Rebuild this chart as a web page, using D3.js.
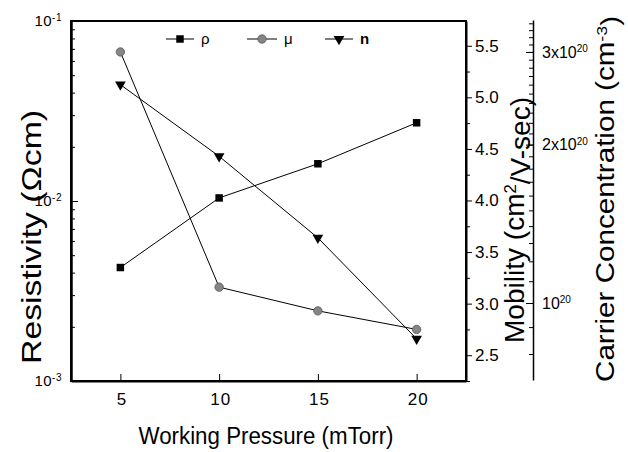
<!DOCTYPE html>
<html>
<head>
<meta charset="utf-8">
<script src="https://cdn.jsdelivr.net/npm/d3@7"></script>
<style>
  body { margin: 0; background: #fff; }
  svg text { font-family: "Liberation Sans", Arial, sans-serif; fill: #000; }
  .domain { stroke: #000; }
  .tick line { stroke: #000; }
</style>
</head>
<body>
<div id="chart"></div>
<script>
// sputtered film properties vs working pressure
const pressure = [5, 10, 15, 20];
const resistivity = [4.27e-3, 1.04e-2, 1.61e-2, 2.72e-2];   // ohm cm
const mobility = [5.44, 3.16, 2.93, 2.75];                  // cm2/V-sec
const carrier = [2.6e20, 1.9e20, 1.33e20, 8.55e19];         // cm-3

const xTicks = [5, 10, 15, 20];
const rhoTicks = [1e-3, 1e-2, 1e-1];
const muTicks = [2.5, 3.0, 3.5, 4.0, 4.5, 5.0, 5.5];
const nTicks = [1e20, 2e20, 3e20];
const nTickLabels = [["10", "20"], ["2x10", "20"], ["3x10", "20"]];

const W = 628, H = 452;
const plotL = 71, plotR = 466, plotT = 21, plotB = 381;
const nAxisX = 533;

const svg = d3.select("#chart").append("svg")
  .attr("width", W).attr("height", H);

const x = d3.scaleLinear().domain([2.5, 22.5]).range([plotL, plotR]);
const yRho = d3.scaleLog().domain([1e-3, 1e-1]).range([plotB, plotT]);
const yMu = d3.scaleLinear().domain([2.25, 5.74]).range([plotB, plotT]);
const yN = d3.scaleLog().domain([7.14e19, 3.45e20]).range([plotB - 1, plotT - 1]);

function supLabel(sel, parts, size) {
  sel.text(null);
  sel.append("tspan").text(parts[0]);
  sel.append("tspan").attr("dy", "-0.55em").attr("font-size", size).text(parts[1]);
}

// frame
svg.append("rect")
  .attr("x", plotL).attr("y", plotT)
  .attr("width", plotR - plotL).attr("height", plotB - plotT)
  .attr("fill", "none").attr("stroke", "#000").attr("stroke-width", 2);

// bottom axis, ticks inward
const gx = svg.append("g")
  .attr("transform", `translate(0,${plotB})`)
  .call(d3.axisBottom(x).tickValues(xTicks).tickSizeInner(-7).tickSizeOuter(0).tickPadding(12));
gx.select(".domain").attr("stroke-width", 2);
gx.selectAll(".tick text").attr("font-size", 17).attr("letter-spacing", 1).attr("dx", 1);

// left log axis: minor ticks then majors
const rhoMinor = [];
[1e-3, 1e-2].forEach(d => { for (let k = 2; k <= 9; k++) rhoMinor.push(d * k); });
svg.append("g")
  .attr("transform", `translate(${plotL},0)`)
  .call(d3.axisLeft(yRho).tickValues(rhoMinor).tickSizeInner(-4).tickSizeOuter(0).tickFormat(""))
  .select(".domain").remove();
const gRho = svg.append("g")
  .attr("transform", `translate(${plotL},0)`)
  .call(d3.axisLeft(yRho).tickValues(rhoTicks).tickSizeInner(-7).tickSizeOuter(0).tickPadding(9));
gRho.select(".domain").attr("stroke-width", 2.5);
gRho.selectAll(".tick text").attr("font-size", 15).attr("letter-spacing", 0.5)
  .each(function(d) { supLabel(d3.select(this), ["10", String(Math.round(Math.log10(d)))], 10); });

// mobility axis on the frame's right edge, ticks outward
const muMinor = muTicks.map(d => d + 0.25).concat([2.25]).filter(d => d < 5.74);
svg.append("g")
  .attr("transform", `translate(${plotR},0)`)
  .call(d3.axisRight(yMu).tickValues(muMinor).tickSizeInner(4).tickSizeOuter(0).tickFormat(""))
  .select(".domain").remove();
const gMu = svg.append("g")
  .attr("transform", `translate(${plotR},0)`)
  .call(d3.axisRight(yMu).tickValues(muTicks).tickSizeInner(6).tickSizeOuter(0).tickPadding(3).tickFormat(d3.format(".1f")));
gMu.select(".domain").attr("stroke-width", 2);
gMu.selectAll(".tick text").attr("font-size", 17);

// carrier concentration axis, offset to the right, ticks pointing left
const nMinor = [];
for (let v = 8e19; v <= 3.4e20; v += 1e19) nMinor.push(v);
svg.append("g")
  .attr("transform", `translate(${nAxisX},0)`)
  .call(d3.axisRight(yN).tickValues(nMinor).tickSizeInner(-4).tickSizeOuter(0).tickFormat(""))
  .select(".domain").remove();
const gN = svg.append("g")
  .attr("transform", `translate(${nAxisX},0)`)
  .call(d3.axisRight(yN).tickValues(nTicks).tickSizeInner(-7).tickSizeOuter(0).tickPadding(9));
gN.select(".domain").attr("stroke-width", 1.5);
gN.selectAll(".tick text").attr("font-size", 16)
  .each(function(d, i) { supLabel(d3.select(this), nTickLabels[i], 10); });

// axis titles
svg.append("text")
  .attr("x", 266).attr("y", 444)
  .attr("text-anchor", "middle").attr("font-size", 23)
  .attr("textLength", 255).attr("lengthAdjust", "spacingAndGlyphs")
  .text("Working Pressure (mTorr)");

svg.append("text")
  .attr("transform", "translate(41,237) rotate(-90)")
  .attr("text-anchor", "middle").attr("font-size", 28)
  .attr("textLength", 254).attr("lengthAdjust", "spacingAndGlyphs")
  .text("Resistivity (\u03A9cm)");

const muTitle = svg.append("text")
  .attr("transform", "translate(524,220) rotate(-90)")
  .attr("text-anchor", "middle").attr("font-size", 27)
  .attr("textLength", 246).attr("lengthAdjust", "spacingAndGlyphs");
muTitle.append("tspan").text("Mobility (cm");
muTitle.append("tspan").attr("dy", "-0.5em").attr("font-size", 16).text("2");
muTitle.append("tspan").attr("dy", "0.5em").text("/V-sec)");

const nTitle = svg.append("text")
  .attr("transform", "translate(614,199) rotate(-90)")
  .attr("text-anchor", "middle").attr("font-size", 25)
  .attr("textLength", 366).attr("lengthAdjust", "spacingAndGlyphs");
nTitle.append("tspan").text("Carrier Concentration (cm");
nTitle.append("tspan").attr("dy", "-0.5em").attr("font-size", 15).text("-3");
nTitle.append("tspan").attr("dy", "0.5em").text(")");

// series lines
const lineRho = d3.line().x((d, i) => x(pressure[i])).y(d => yRho(d));
const lineMu = d3.line().x((d, i) => x(pressure[i])).y(d => yMu(d));
const lineN = d3.line().x((d, i) => x(pressure[i])).y(d => yN(d));

[[resistivity, lineRho], [mobility, lineMu], [carrier, lineN]].forEach(([vals, gen]) => {
  svg.append("path").datum(vals)
    .attr("fill", "none").attr("stroke", "#000").attr("stroke-width", 1)
    .attr("d", gen);
});

// markers
const sq = d3.symbol().type(d3.symbolSquare).size(56);
const tri = d3.symbol().type(d3.symbolTriangle).size(50);

function drawSquare(g, cx, cy) {
  g.append("path").attr("d", sq()).attr("transform", `translate(${cx},${cy})`)
    .attr("fill", "#000");
}
function drawCircle(g, cx, cy) {
  g.append("circle").attr("cx", cx).attr("cy", cy).attr("r", 4.2)
    .attr("fill", "#858585").attr("stroke", "#555").attr("stroke-width", 0.8);
}
function drawTri(g, cx, cy) {
  g.append("path").attr("d", tri()).attr("transform", `translate(${cx},${cy}) rotate(180)`)
    .attr("fill", "#000");
}

const marks = svg.append("g");
resistivity.forEach((v, i) => drawSquare(marks, x(pressure[i]), yRho(v)));
mobility.forEach((v, i) => drawCircle(marks, x(pressure[i]), yMu(v)));
carrier.forEach((v, i) => drawTri(marks, x(pressure[i]), yN(v)));

// legend
const legendY = 39;
const legendItems = [
  { x0: 166, x1: 194, label: "\u03C1", draw: drawSquare, bold: false },
  { x0: 247, x1: 277, label: "\u03BC", draw: drawCircle, bold: false },
  { x0: 325, x1: 353, label: "n", draw: drawTri, bold: true }
];
const lg = svg.append("g");
legendItems.forEach(it => {
  lg.append("line")
    .attr("x1", it.x0).attr("x2", it.x1).attr("y1", legendY).attr("y2", legendY)
    .attr("stroke", "#000").attr("stroke-width", 1);
  it.draw(lg, (it.x0 + it.x1) / 2, legendY);
  lg.append("text")
    .attr("x", it.x1 + 7).attr("y", legendY + 5)
    .attr("font-size", 15).attr("font-weight", it.bold ? "bold" : "normal")
    .text(it.label);
});
</script>
</body>
</html>
